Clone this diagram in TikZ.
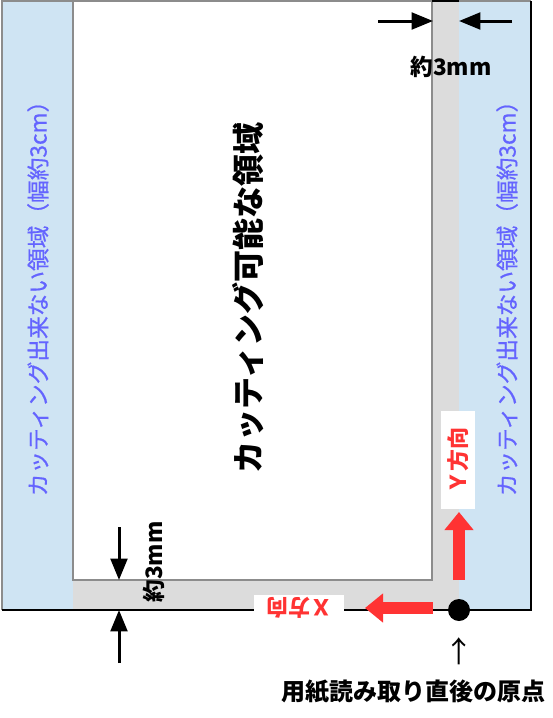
\documentclass[tikz,border=0pt]{standalone}
\usepackage{fontspec}
\setmainfont{Noto Sans CJK JP}
\newfontfamily\sidefont{Noto Sans CJK JP}[FakeBold=0.7]
\usetikzlibrary{arrows.meta}
\definecolor{strip}{RGB}{207,228,243}
\definecolor{band}{RGB}{220,220,220}
\definecolor{framegray}{RGB}{140,140,140}
\definecolor{sidetxt}{RGB}{100,100,255}
\definecolor{dirred}{RGB}{255,51,51}
\tikzset{
  dimline/.style={line width=2.25pt,-{Triangle[length=16pt,width=12.5pt]}},
  dirarrow/.style={line width=9pt,dirred,-{Triangle[length=13.5pt,width=21pt]}},
  sidelabel/.style={rotate=90,text=sidetxt,font=\sidefont\fontsize{17}{17}\selectfont,inner sep=0pt},
  dimlabel/.style={font=\bfseries\fontsize{17}{17}\selectfont,inner sep=0pt},
  dirlabel/.style={fill=white,text=dirred,font=\bfseries\fontsize{16.5}{16.5}\selectfont,inner sep=0pt},
}
\begin{document}
\begin{tikzpicture}[x=0.75pt,y=-0.75pt]
\useasboundingbox (0,0) rectangle (553,718);
% strips, band and paper
\fill[strip] (2,1) rectangle (531,610);
\fill[band] (73,1) rectangle (459,610);
\draw[framegray,line width=1.2pt,fill=white] (73,1) rectangle (432,580);
\draw[framegray,line width=1.2pt] (2,610) -- (2,1) -- (531,1);
\draw[black,line width=1.2pt] (432,1) -- (459,1);
\draw[black,line width=1.2pt] (531,1) -- (531,610) -- (2,610);
% texts in the areas
\node[rotate=90,font=\bfseries\fontsize{24}{24}\selectfont,inner sep=0pt] (main) at (248,298) {カッティング可能な領域};
\node[sidelabel] (leftside) at (38,293) {カッティング出来ない領域（幅約3cm）};
\node[sidelabel] (rightside) at (507,293) {カッティング出来ない領域（幅約3cm）};
% top dimension
\coordinate (tl) at (378,21);
\coordinate (tla) at (433,21);
\coordinate (tr) at (512,21);
\coordinate (tra) at (459,21);
\draw[dimline] (tl) -- (tla);
\draw[dimline] (tr) -- (tra);
\node[dimlabel] (topdim) at (451,67) {約3mm};
% bottom dimension
\coordinate (bt) at (119,527);
\coordinate (bta) at (119,580);
\coordinate (bb) at (119,663);
\coordinate (bba) at (119,610);
\draw[dimline] (bt) -- (bta);
\draw[dimline] (bb) -- (bba);
\node[dimlabel,rotate=90] (botdim) at (154,562) {約3mm};
% origin and direction arrows
\node[dirlabel,rotate=180,minimum width=68pt,minimum height=20pt] (xlab) at (299,608) {Ｘ方向};
\node[dirlabel,rotate=90,minimum width=73pt,minimum height=26pt] (ylab) at (458,460) {Ｙ方向};
\node[circle,fill=black,minimum size=16.5pt,inner sep=0pt] (origin) at (459,610) {};
\coordinate (xs) at (433,608);
\coordinate (xe) at (365,608);
\coordinate (ys) at (459,580);
\coordinate (ye) at (459,512);
\draw[dirarrow] (xs) -- (xe);
\draw[dirarrow] (ys) -- (ye);
\node[font=\fontsize{22}{22}\selectfont,inner sep=0pt] (up) at (459,651) {↑};
\node[font=\bfseries\fontsize{18}{18}\selectfont,inner sep=0pt] (caption) at (413,692) {用紙読み取り直後の原点};
\end{tikzpicture}
\end{document}
